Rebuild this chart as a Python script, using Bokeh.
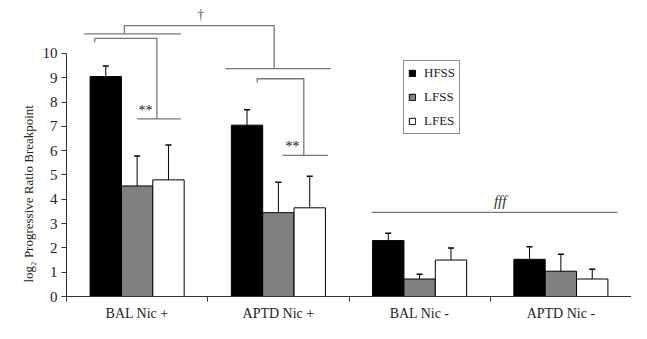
import numpy as np
from bokeh.plotting import figure
from bokeh.models import Range1d, FixedTicker, Whisker, TeeHead, ColumnDataSource, Legend, LegendItem, Title
from bokeh.core.properties import value
from bokeh.embed import file_html
from bokeh.resources import INLINE

# ---- data ----
categories = ["BAL Nic +", "APTD Nic +", "BAL Nic -", "APTD Nic -"]
series = ["HFSS", "LFSS", "LFES"]
hfss = [9.05, 7.05, 2.30, 1.53]
lfss = [4.55, 3.45, 0.72, 1.04]
lfes = [4.80, 3.65, 1.50, 0.72]
hfss_err = [0.43, 0.63, 0.30, 0.52]
lfss_err = [1.23, 1.25, 0.20, 0.70]
lfes_err = [1.43, 1.30, 0.50, 0.40]
y_ticks = list(range(0, 11))
y_label = "log\u2082 Progressive Ratio Breakpoint"

FONT = "Liberation Serif"
fills = ["#000000", "#808080", "#ffffff"]
offsets = [-0.222, 0.0, 0.222]
bar_w = 0.222

p = figure(width=631, height=323, output_backend="svg", toolbar_location=None,
           x_range=Range1d(0, 4), y_range=Range1d(0, 12.18),
           min_border_left=66, min_border_right=0, min_border_top=0, min_border_bottom=0)
p.outline_line_color = None
p.xgrid.grid_line_color = None
p.ygrid.grid_line_color = None

centers = np.arange(len(categories)) + 0.5
legend_items = []
for vals, errs, name, fc, off in zip([hfss, lfss, lfes], [hfss_err, lfss_err, lfes_err], series, fills, offsets):
    x = centers + off
    src = ColumnDataSource(dict(x=x, top=vals, upper=np.array(vals) + np.array(errs)))
    r = p.vbar(x="x", top="top", width=bar_w, source=src, fill_color=fc, line_color="black", line_width=1)
    w = Whisker(base="x", lower="top", upper="upper", source=src, line_color="black", line_width=1,
                upper_head=TeeHead(size=6, line_color="black", line_width=1.5), lower_head=None)
    p.add_layout(w)
    legend_items.append(LegendItem(label=name, renderers=[r]))

# axes
yax = p.yaxis[0]
yax.ticker = FixedTicker(ticks=y_ticks)
yax.bounds = (0, 10)
yax.minor_tick_line_color = None
yax.major_tick_out = 5
yax.major_tick_in = 0
yax.major_label_text_font = FONT
yax.major_label_text_font_size = "15px"
yax.major_label_text_color = "#222222"
yax.major_label_standoff = 4
yax.axis_line_color = "#333333"
yax.major_tick_line_color = "#333333"

ytitle = Title(text=y_label, align="left", offset=14, standoff=8,
               text_font=FONT, text_font_style="normal", text_font_size="13px",
               text_color="#222222")
p.add_layout(ytitle, "left")

xax = p.xaxis[0]
xax.ticker = FixedTicker(ticks=list(centers), minor_ticks=list(range(len(categories) + 1)))
xax.major_label_overrides = {float(c): cat for c, cat in zip(centers, categories)}
xax.major_tick_out = 0
xax.major_tick_in = 0
xax.minor_tick_out = 5
xax.minor_tick_in = 0
xax.minor_tick_line_color = "#333333"
xax.major_label_text_font = FONT
xax.major_label_text_font_size = "14px"
xax.major_label_text_color = "#222222"
xax.major_label_standoff = 4
xax.axis_line_color = "#333333"

# significance brackets (data units)
gray = "#777777"
bxs = [
    [0.41, 0.41, 1.47, 1.47],
    [0.125, 0.81],
    [1.125, 1.87],
    [0.20, 0.20, 0.64, 0.64],
    [0.50, 0.81],
    [1.35, 1.35, 1.68, 1.68],
    [1.53, 1.85],
    [2.16, 3.90],
]
bys = [
    [10.81, 11.15, 11.15, 9.38],
    [10.81, 10.81],
    [9.38, 9.38],
    [10.46, 10.62, 10.62, 7.31],
    [7.31, 7.31],
    [8.81, 8.96, 8.96, 5.81],
    [5.81, 5.81],
    [3.46, 3.46],
]
p.multi_line(xs=bxs, ys=bys, line_color=gray, line_width=1.3)

p.text(x=[0.95], y=[11.6], text=["\u2020"], text_font=value(FONT), text_font_size="14px",
       text_color="#555555", text_align="center", text_baseline="middle")
p.text(x=[0.56, 1.60], y=[7.36, 5.86], text=["**", "**"], text_font=value(FONT), text_font_size="14px",
       text_color="#111111", text_align="center", text_baseline="bottom")
p.text(x=[3.07], y=[3.62], text=["fff"], text_font=value(FONT), text_font_size="15px",
       text_font_style="italic", text_color="#333333", text_align="center", text_baseline="bottom")

legend = Legend(items=legend_items, location=(337, 162), orientation="vertical",
                glyph_width=8, glyph_height=8, label_height=15, label_standoff=8, spacing=8,
                padding=4, margin=0, label_text_font=FONT, label_text_font_size="13px",
                label_text_color="#222222", border_line_color="#222222", border_line_width=1,
                background_fill_alpha=1.0)
p.add_layout(legend)

open("out.html", "w").write(file_html(p, INLINE))
